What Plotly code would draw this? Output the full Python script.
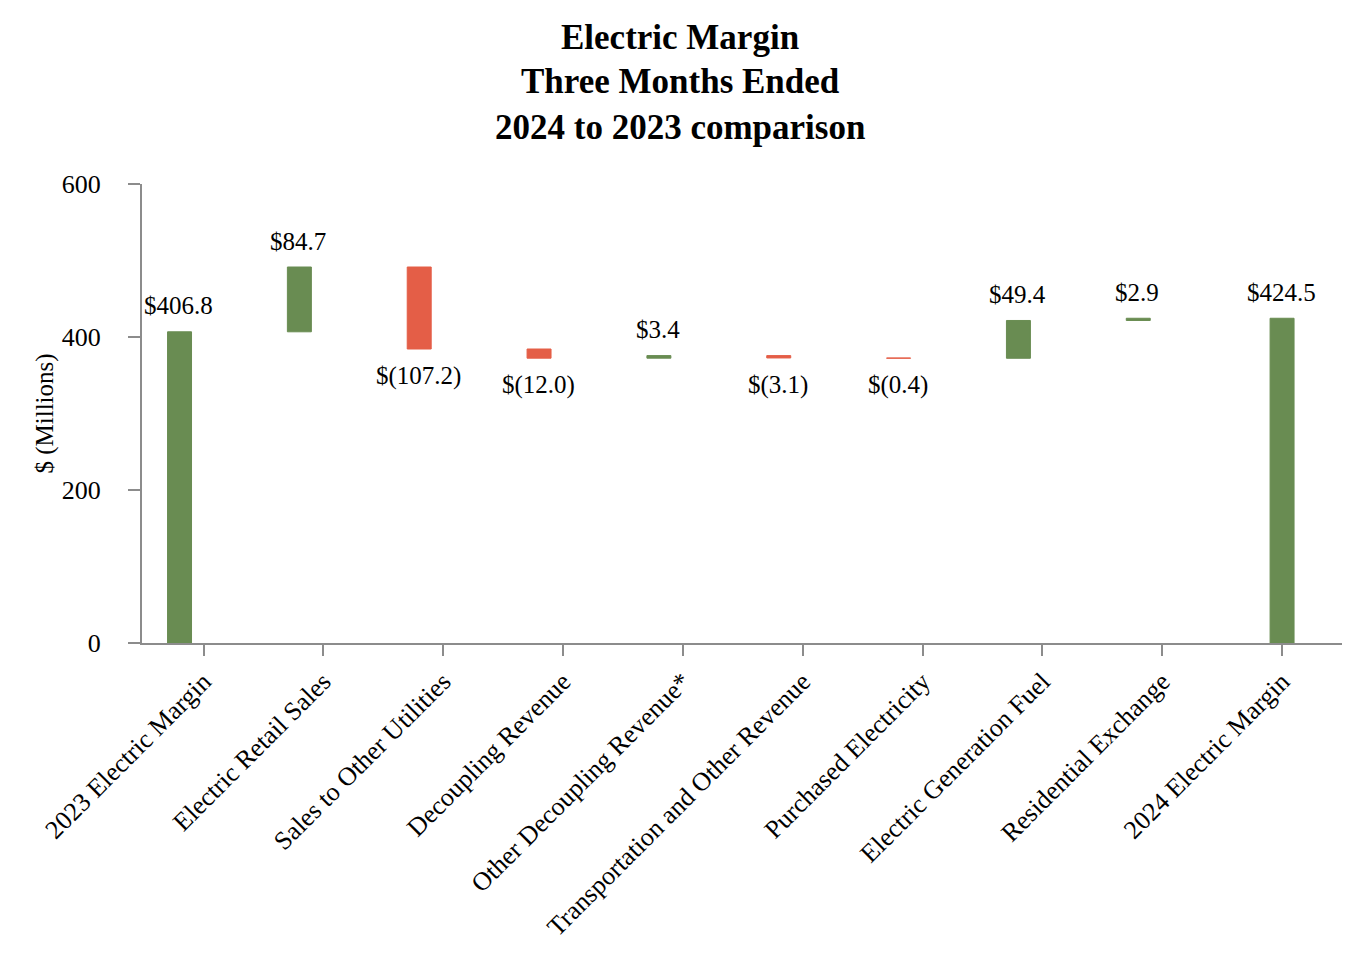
import numpy as np
import plotly.graph_objects as go

categories = ["2023 Electric Margin", "Electric Retail Sales", "Sales to Other Utilities",
              "Decoupling Revenue", "Other Decoupling Revenue*", "Transportation and Other Revenue",
              "Purchased Electricity", "Electric Generation Fuel", "Residential Exchange",
              "2024 Electric Margin"]
values = [406.8, 84.7, -107.2, -12.0, 3.4, -3.1, -0.4, 49.4, 2.9, 424.5]
measures = ["absolute"] + ["relative"] * 8 + ["total"]
y_ticks = [0, 200, 400, 600]
title_lines = ["Electric Margin", "Three Months Ended", "2024 to 2023 comparison"]

GREEN = "#698c52"
RED = "#e45e47"
AXIS = "#8c8c8c"
FONT = "Liberation Serif"

offsets = [-0.3] * 9 + [-0.1]
xshifts = [-24] * 9 + [0]

fig = go.Figure()
fig.add_trace(go.Waterfall(
    x=categories, y=values, measure=measures,
    offset=offsets, width=[0.2] * len(categories),
    increasing=dict(marker=dict(color=GREEN, line=dict(color=GREEN, width=1))),
    decreasing=dict(marker=dict(color=RED, line=dict(color=RED, width=1))),
    totals=dict(marker=dict(color=GREEN, line=dict(color=GREEN, width=1))),
    connector=dict(visible=False),
    hoverinfo="skip",
))

# value labels
running = 0.0
anns = []
for i, (c, v, m) in enumerate(zip(categories, values, measures)):
    if m == "absolute":
        top, bottom = v, 0
        running = v
    elif m == "total":
        top, bottom = running, 0
    else:
        start = running
        running = start + v
        top, bottom = max(start, running), min(start, running)
    if v >= 0:
        txt = f"${v:.1f}"
        yy, ys = top, 26
    else:
        txt = f"$({abs(v):.1f})"
        yy, ys = bottom, -27
    anns.append(dict(x=c, y=yy, xref="x", yref="y", text=txt, showarrow=False,
                     xshift=xshifts[i] - 1, yshift=ys, yanchor="middle",
                     font=dict(family=FONT, size=25, color="black")))

# title lines (plot area spans 459 px, bottom at page y=643)
plot_h = 459.0
for line, yc in zip(title_lines, [37, 82, 127]):
    anns.append(dict(x=0.5, xref="paper", y=(643 - yc) / plot_h, yref="paper",
                     text=f"<b>{line}</b>", showarrow=False, xanchor="center",
                     yanchor="middle", xshift=-62,
                     font=dict(family=FONT, size=35, color="black")))

fig.update_layout(
    width=1356, height=952,
    margin=dict(l=134, r=22, t=176, b=317),
    paper_bgcolor="white", plot_bgcolor="white",
    showlegend=False,
    annotations=anns,
    font=dict(family=FONT, color="black"),
)
fig.update_xaxes(
    type="category", showline=True, linecolor=AXIS, linewidth=2,
    ticks="outside", ticklen=11, tickcolor=AXIS, tickwidth=2,
    tickangle=-45, tickfont=dict(family=FONT, size=26, color="black"),
    showgrid=False, zeroline=False,
)
fig.update_yaxes(
    range=[0, 600], tickvals=y_ticks, showline=True, linecolor=AXIS, linewidth=2,
    ticks="outside", ticklen=12, tickcolor=AXIS, tickwidth=2,
    ticklabelstandoff=22,
    tickfont=dict(family=FONT, size=26, color="black"),
    showgrid=False, zeroline=False,
    title=dict(text="$ (Millions)", font=dict(family=FONT, size=25, color="black"), standoff=1),
)

fig.write_html("out.html")
